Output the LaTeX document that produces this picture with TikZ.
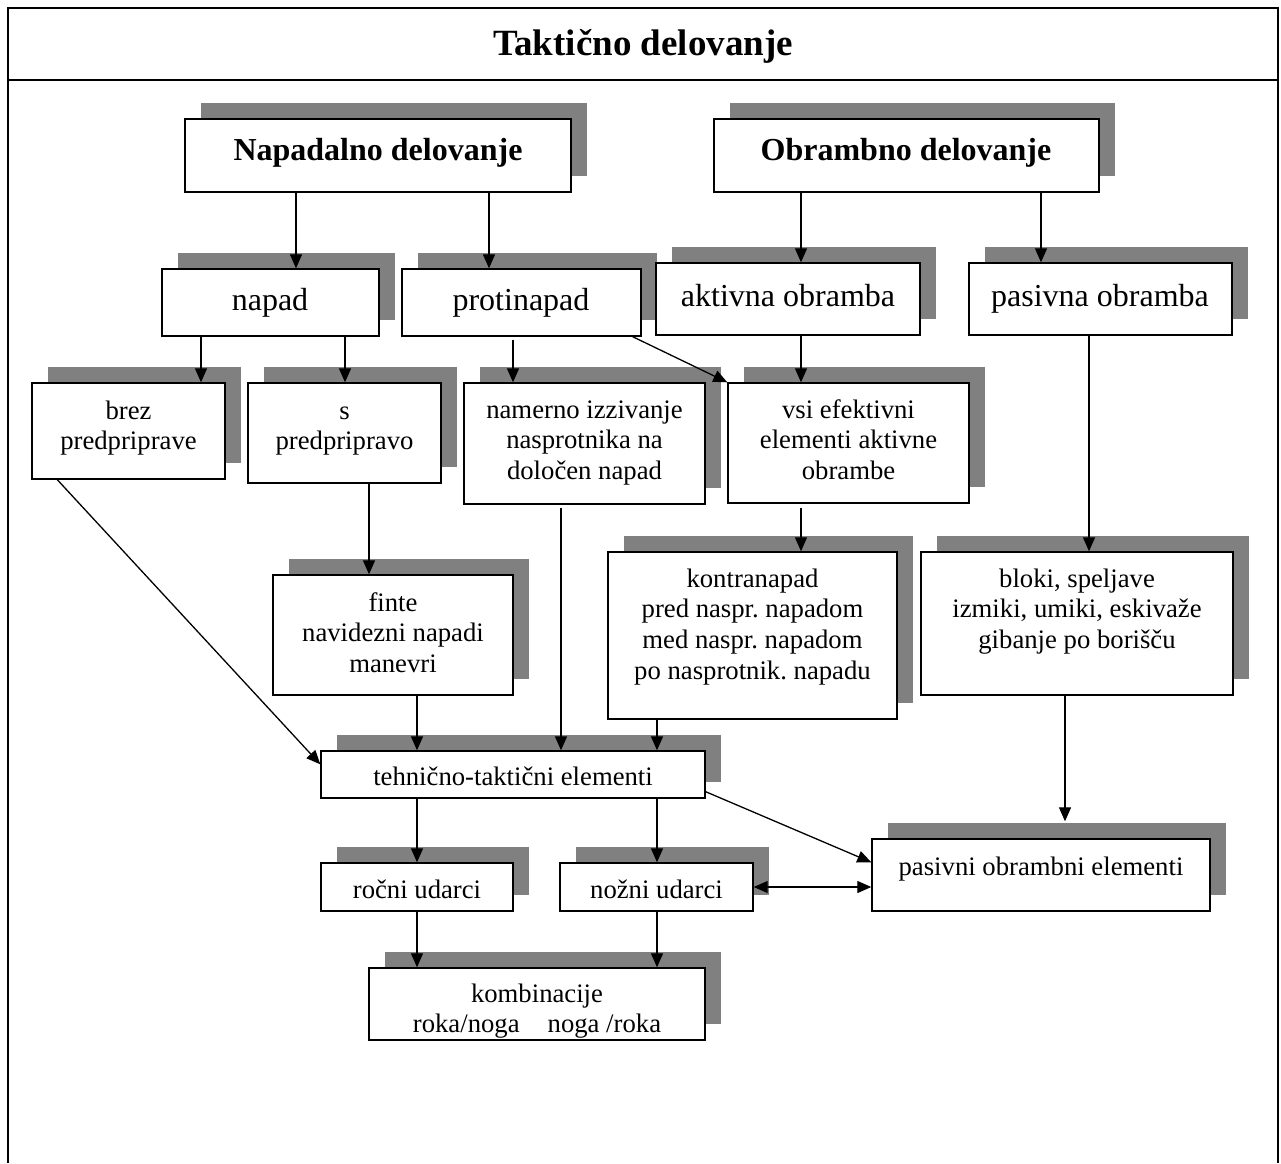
\documentclass[tikz,border=0pt]{standalone}
\usepackage{fontspec}
\setmainfont{Liberation Serif}
\usetikzlibrary{arrows.meta,fit,calc,shadows}
\definecolor{shgray}{HTML}{808080}
\newcommand\ml[1]{\begin{tabular}[t]{@{}c@{}}#1\end{tabular}}
\frenchspacing
\begin{document}
\begin{tikzpicture}[x=1pt,y=-1pt,
 box/.style={draw, line width=1.4pt, fill=white, inner sep=0pt,
   general shadow={fill=shgray, shadow xshift=16pt, shadow yshift=16pt}},
 bigb/.style={font=\fontsize{32}{37}\selectfont\bfseries},
 big/.style={font=\fontsize{32}{37}\selectfont},
 norm/.style={font=\fontsize{26.7}{30.7}\selectfont},
 txt/.style={inner sep=0pt, anchor=base},
 arr/.style={line width=1.3pt, -{Triangle[length=14pt,width=12pt]}},
 darr/.style={line width=1.3pt, {Triangle[length=14pt,width=12pt]}-{Triangle[length=14pt,width=12pt]}},
 frame/.style={line width=2pt}]
\useasboundingbox (0,0) rectangle (1281,1163);
% frame
\draw[frame] (8,1163) -- (8,8) -- (1278,8) -- (1278,1163);
\draw[frame] (8,80) -- (1278,80);
\node[txt, font=\fontsize{37}{42}\selectfont\bfseries] (title) at (643,55) {Taktično delovanje};
% boxes
\node[box, fit={(185,119)(571,192)}] (nap) {};
\node[box, fit={(714,119)(1099,192)}] (obr) {};
\node[box, fit={(162,269)(379,336)}] (napad) {};
\node[box, fit={(402,269)(641,336)}] (proti) {};
\node[box, fit={(656,263)(920,335)}] (akt) {};
\node[box, fit={(969,263)(1232,335)}] (pas) {};
\node[box, fit={(32,383)(225,479)}] (brez) {};
\node[box, fit={(248,383)(441,483)}] (spred) {};
\node[box, fit={(464,383)(705,504)}] (namerno) {};
\node[box, fit={(728,383)(969,503)}] (vsi) {};
\node[box, fit={(273,575)(513,695)}] (finte) {};
\node[box, fit={(608,552)(897,719)}] (kontra) {};
\node[box, fit={(921,552)(1233,695)}] (bloki) {};
\node[box, fit={(321,751)(705,798)}] (teh) {};
\node[box, fit={(321,863)(513,911)}] (rocni) {};
\node[box, fit={(560,863)(753,911)}] (nozni) {};
\node[box, fit={(872,839)(1210,911)}] (pasel) {};
\node[box, fit={(369,968)(705,1040)}] (komb) {};
% texts
\node[txt,bigb] (nap-t) at (378,160) {Napadalno delovanje};
\node[txt,bigb] (obr-t) at (906,160) {Obrambno delovanje};
\node[txt,big] (napad-t) at (270,310) {napad};
\node[txt,big] (proti-t) at (521,310) {protinapad};
\node[txt,big] (akt-t) at (788,306) {aktivna obramba};
\node[txt,big] (pas-t) at (1100,306) {pasivna obramba};
\node[txt,norm] (brez-t) at (128.5,419) {\ml{brez\\predpriprave}};
\node[txt,norm] (spred-t) at (344.5,419) {\ml{s\\predpripravo}};
\node[txt,norm] (namerno-t) at (584.5,418) {\ml{namerno izzivanje\\nasprotnika na\\določen napad}};
\node[txt,norm] (vsi-t) at (848.5,418) {\ml{vsi efektivni\\elementi aktivne\\obrambe}};
\node[txt,norm] (finte-t) at (393,611) {\ml{finte\\navidezni napadi\\manevri}};
\node[txt,norm] (kontra-t) at (752.5,587) {\ml{kontranapad\\pred naspr. napadom\\med naspr. napadom\\po nasprotnik. napadu}};
\node[txt,norm] (bloki-t) at (1077,587) {\ml{bloki, speljave\\izmiki, umiki, eskivaže\\gibanje po borišču}};
\node[txt,norm] (teh-t) at (513,785) {tehnično-taktični elementi};
\node[txt,norm] (rocni-t) at (417,898) {ročni udarci};
\node[txt,norm] (nozni-t) at (656.5,898) {nožni udarci};
\node[txt,norm] (pasel-t) at (1041,875) {pasivni obrambni elementi};
\node[txt,norm] (komb-t) at (537,1002) {\ml{kombinacije\\roka/noga\hspace{28pt}noga /roka}};
% connectors
\draw[arr] (nap.south -| 296,0) -- (napad.north -| 296,0);
\draw[arr] (nap.south -| 489,0) -- (proti.north -| 489,0);
\draw[arr] (obr.south -| 801,0) -- (akt.north -| 801,0);
\draw[arr] (obr.south -| 1041,0) -- (pas.north -| 1041,0);
\draw[arr] (napad.south -| 201,0) -- (brez.north -| 201,0);
\draw[arr] (napad.south -| 345,0) -- (spred.north -| 345,0);
\draw[arr] ($(proti.south -| 513,0)+(0,3)$) -- (namerno.north -| 513,0);
\draw[arr] ([xshift=-9pt]proti.south east) -- (vsi.north west);
\draw[arr] (akt.south -| 801,0) -- (vsi.north -| 801,0);
\draw[arr] (spred.south -| 369,0) -- (finte.north -| 369,0);
\draw[arr] ($(vsi.south -| 801,0)+(0,4)$) -- (kontra.north -| 801,0);
\draw[arr] (pas.south -| 1089,0) -- (bloki.north -| 1089,0);
\draw[arr] ([xshift=26pt]brez.south west) -- ([yshift=-14pt]teh.north west);
\draw[arr] (finte.south -| 417,0) -- (teh.north -| 417,0);
\draw[arr] ($(namerno.south -| 561,0)+(0,3)$) -- (teh.north -| 561,0);
\draw[arr] (kontra.south -| 657,0) -- (teh.north -| 657,0);
\draw[arr] (bloki.south -| 1065,0) -- ($(pasel.north -| 1065,0)+(0,-17)$);
\draw[arr] (teh.south -| 417,0) -- (rocni.north -| 417,0);
\draw[arr] (teh.south -| 657,0) -- (nozni.north -| 657,0);
\draw[arr] ([yshift=7pt]teh.south east) -- ([yshift=-24pt]pasel.north west);
\draw[darr] (nozni.east) -- (nozni.east -| pasel.west);
\draw[arr] (rocni.south -| 417,0) -- (komb.north -| 417,0);
\draw[arr] (nozni.south -| 657,0) -- (komb.north -| 657,0);
\end{tikzpicture}
\end{document}
